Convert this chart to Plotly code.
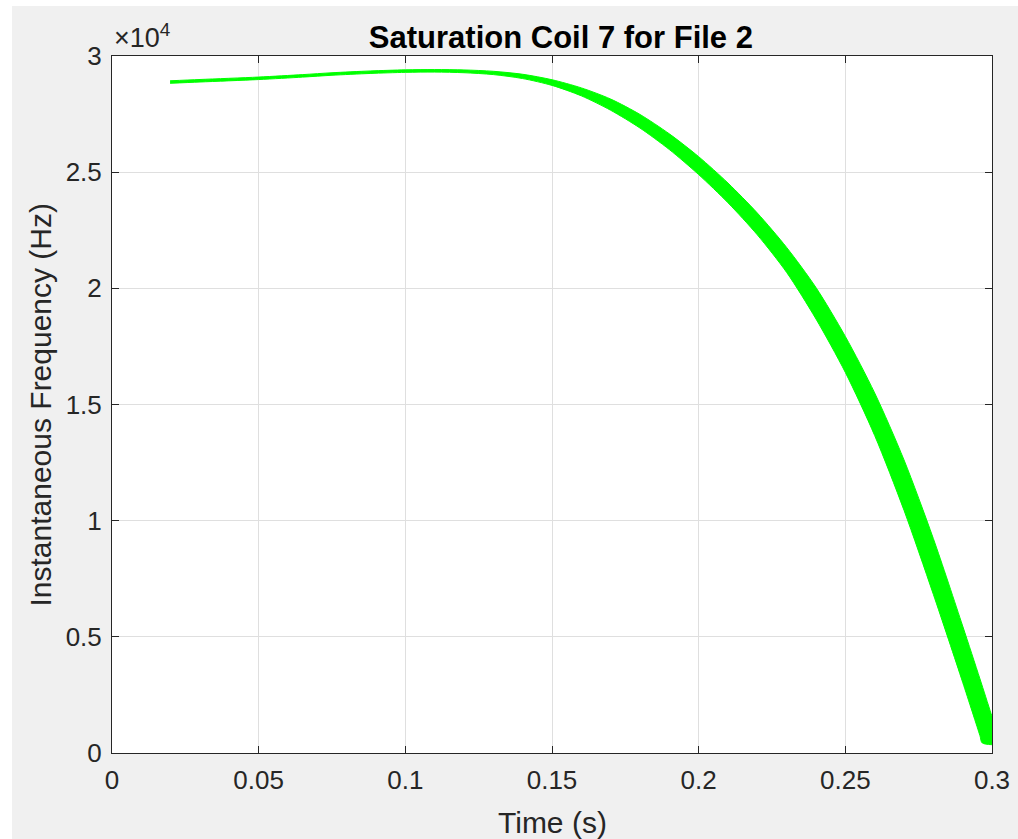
import plotly.graph_objects as go

# Upper envelope of the green band (time in s, frequency in Hz)
time_upper = [0.0198, 0.030, 0.050, 0.065, 0.075, 0.088, 0.100, 0.110, 0.120,
              0.130, 0.140, 0.150, 0.160, 0.170, 0.180, 0.190, 0.200, 0.210,
              0.220, 0.230, 0.240, 0.250, 0.260, 0.270, 0.280, 0.290, 0.2959,
              0.2997, 0.3029]
freq_upper = [28933, 28989, 29094, 29199, 29279, 29356, 29404, 29416, 29400,
              29342, 29213, 28978, 28628, 28147, 27484, 26649, 25667, 24531,
              23241, 21759, 20033, 17930, 15497, 12615, 9231, 5467, 3189,
              1688, 430]

# Lower envelope of the green band
time_lower = [0.0198, 0.030, 0.050, 0.065, 0.075, 0.088, 0.100, 0.110, 0.120,
              0.130, 0.140, 0.150, 0.160, 0.170, 0.180, 0.190, 0.200, 0.210,
              0.220, 0.230, 0.240, 0.250, 0.260, 0.270, 0.280, 0.290, 0.2959,
              0.2967]
freq_lower = [28825, 28881, 28986, 29091, 29171, 29248, 29296, 29308, 29280,
              29200, 29029, 28734, 28284, 27665, 26898, 25973, 24895, 23681,
              22301, 20683, 18679, 16382, 13665, 10447, 6831, 3045, 745,
              430]

x_tick_vals = [0, 0.05, 0.1, 0.15, 0.2, 0.25, 0.3]
x_tick_text = ["0", "0.05", "0.1", "0.15", "0.2", "0.25", "0.3"]
y_tick_vals = [0, 5000, 10000, 15000, 20000, 25000, 30000]
y_tick_text = ["0", "0.5", "1", "1.5", "2", "2.5", "3"]

FONT = "Liberation Sans, Arial, Helvetica, sans-serif"
TXT = "#262626"
GREEN = "#00ff00"

fig = go.Figure()
fig.add_trace(go.Scatter(
    x=time_upper + time_lower[::-1],
    y=freq_upper + freq_lower[::-1],
    mode="lines",
    fill="toself",
    fillcolor=GREEN,
    line=dict(color=GREEN, width=1, shape="spline", smoothing=0.8),
    hoverinfo="skip",
    showlegend=False,
))

axis_common = dict(
    showline=True, linecolor=TXT, linewidth=1, mirror="ticks",
    ticks="inside", ticklen=7, tickcolor=TXT, tickwidth=1,
    showgrid=True, gridcolor="#dfdfdf", gridwidth=1,
    zeroline=False,
    tickfont=dict(family=FONT, size=26, color=TXT),
)

fig.update_xaxes(range=[0, 0.3], tickvals=x_tick_vals, ticktext=x_tick_text,
                 ticklabelstandoff=4, **axis_common)
fig.update_yaxes(range=[0, 30000], tickvals=y_tick_vals, ticktext=y_tick_text,
                 ticklabelstandoff=4, **axis_common)

fig.update_layout(
    width=1018, height=839,
    margin=dict(l=112, r=26, t=56, b=86, autoexpand=False),
    paper_bgcolor="#f0f0f0",
    plot_bgcolor="white",
    title=dict(text="<b>Saturation Coil 7 for File 2</b>",
               x=0.551, xref="container", xanchor="center",
               y=1 - 37 / 839, yref="container", yanchor="middle",
               font=dict(family=FONT, size=31, color="black")),
    annotations=[
        dict(text="Time (s)", xref="paper", yref="paper", x=0.5, y=-0.1004,
             xanchor="center", yanchor="middle", showarrow=False,
             font=dict(family=FONT, size=30, color=TXT)),
        dict(text="Instantaneous Frequency (Hz)", xref="paper", yref="paper",
             x=-0.0818, y=0.5, xanchor="center", yanchor="middle", textangle=-90,
             showarrow=False, font=dict(family=FONT, size=30, color=TXT)),
        dict(text="×10<sup>4</sup>", xref="paper", yref="paper", x=0, y=1,
             xanchor="left", yanchor="bottom", yshift=1, showarrow=False,
             font=dict(family=FONT, size=27, color=TXT)),
    ],
    shapes=[
        dict(type="rect", xref="paper", yref="paper", x0=-0.2, x1=-0.1136,
             y0=-0.2, y1=1.2, fillcolor="white", line=dict(width=0), layer="above"),
        dict(type="rect", xref="paper", yref="paper", x0=-0.2, x1=1.2,
             y0=1.0717, y1=1.2, fillcolor="white", line=dict(width=0), layer="above"),
    ],
)

fig.write_html(
    "out.html",
    config={"displayModeBar": False},
    post_script="document.body.style.margin='0';document.body.style.overflow='hidden';",
)
